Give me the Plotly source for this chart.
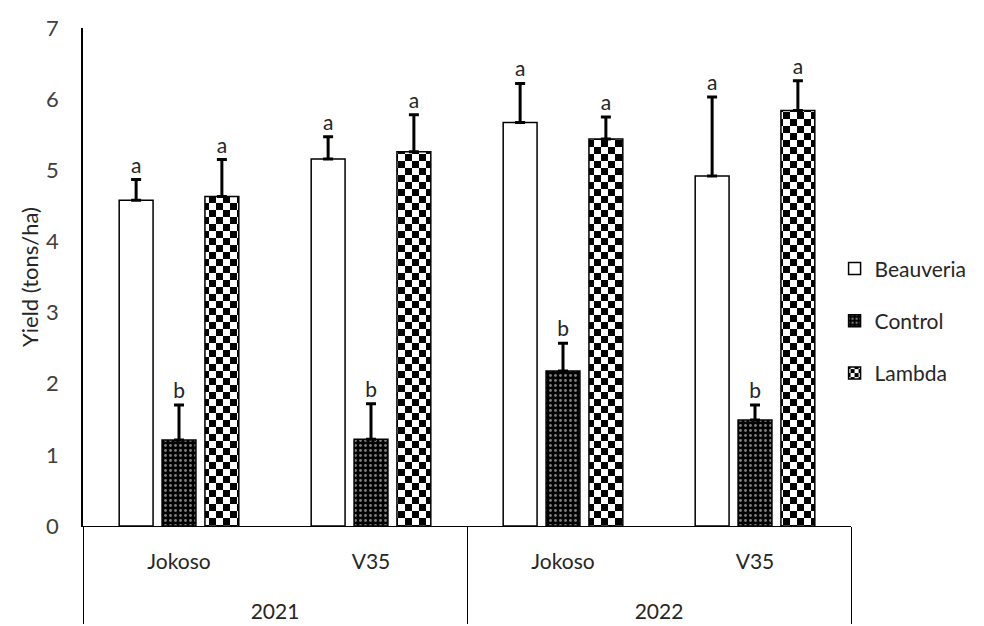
import plotly.graph_objects as go

years = ["2021", "2021", "2022", "2022"]
varieties = ["Jokoso", "V35", "Jokoso", "V35"]

beauveria = [4.58, 5.16, 5.67, 4.92]
beauveria_err = [0.29, 0.31, 0.55, 1.11]
beauveria_letters = ["a", "a", "a", "a"]

control = [1.21, 1.22, 2.18, 1.49]
control_err = [0.49, 0.50, 0.39, 0.21]
control_letters = ["b", "b", "b", "b"]

lambda_ = [4.63, 5.26, 5.44, 5.84]
lambda_err = [0.52, 0.52, 0.31, 0.42]
lambda_letters = ["a", "a", "a", "a"]

y_ticks = [0, 1, 2, 3, 4, 5, 6, 7]

FONT = "Lato, 'Open Sans', sans-serif"
TXT = "#262626"
LBL = "<span style='font-size:21px'>{}</span>"

series = [
    ("Beauveria", beauveria, beauveria_err, beauveria_letters,
     dict(color="white", line=dict(color="black", width=1.5))),
    ("Control", control, control_err, control_letters,
     dict(color="black", line=dict(color="black", width=1.5),
          pattern=dict(shape=".", fgcolor="white", bgcolor="black", size=5, solidity=0.25, fillmode="overlay"))),
    ("Lambda", lambda_, lambda_err, lambda_letters,
     dict(color="white", line=dict(color="black", width=1.5),
          pattern=dict(shape="+", fgcolor="black", bgcolor="white", size=14, solidity=0.5, fillmode="overlay"))),
]

fig = go.Figure()
x = [["<br>" + LBL.format(y) for y in years], [LBL.format(v) for v in varieties]]
for i, (name, vals, errs, letters, marker) in enumerate(series):
    fig.add_trace(go.Bar(
        name=name, x=x, y=vals, marker=marker, legendgroup=name,
        offsetgroup=str(i),
        error_y=dict(type="data", array=errs, arrayminus=[0] * len(errs), symmetric=False,
                     color="black", thickness=3, width=5),
    ))
for i, (name, vals, errs, letters, marker) in enumerate(series):
    fig.add_trace(go.Bar(
        x=x, y=[v + e for v, e in zip(vals, errs)], text=letters,
        textposition="outside", cliponaxis=False,
        textfont=dict(family=FONT, size=21, color=TXT),
        marker=dict(color="rgba(0,0,0,0)", line=dict(width=0)),
        offsetgroup=str(i), showlegend=False, hoverinfo="skip",
    ))

fig.update_layout(
    width=984, height=626,
    margin=dict(l=83, r=131, t=28, b=100),
    paper_bgcolor="white", plot_bgcolor="white",
    barmode="group", bargap=0.33, bargroupgap=0.21,
    font=dict(family=FONT, color=TXT, size=21),
    showlegend=True,
    legend=dict(x=1.157, xanchor="right", y=0.412, yanchor="middle",
                font=dict(size=21, family=FONT, color=TXT),
                tracegroupgap=22, itemwidth=30, bgcolor="rgba(0,0,0,0)"),
    yaxis=dict(range=[0, 7], tickvals=y_ticks, showgrid=False, zeroline=False,
               showline=True, linecolor="black", linewidth=1.5,
               ticks="", ticklabelstandoff=18,
               tickfont=dict(size=22, color="#404040"),
               title=dict(text="Yield (tons/ha)", font=dict(size=22, color=TXT), standoff=1)),
    xaxis=dict(type="multicategory", showline=True, linecolor="black", linewidth=1,
               showdividers=True, dividercolor="black", dividerwidth=1,
               ticks="", ticklabelstandoff=11, automargin=False,
               tickfont=dict(size=26, color=TXT), showgrid=False),
)

checker_js = """
(function(){
  document.body.style.margin = '0';
  var ns = 'http://www.w3.org/2000/svg';
  function fix(){
    document.querySelectorAll('pattern').forEach(function(p){
      if (p.getAttribute('data-cb')) return;
      if (!p.querySelector('path')) return;
      var w = parseFloat(p.getAttribute('width')), h = parseFloat(p.getAttribute('height'));
      while (p.firstChild) p.removeChild(p.firstChild);
      function r(x, y, ww, hh, c){
        var e = document.createElementNS(ns, 'rect');
        e.setAttribute('x', x); e.setAttribute('y', y);
        e.setAttribute('width', ww); e.setAttribute('height', hh);
        e.setAttribute('fill', c); p.appendChild(e);
      }
      r(0, 0, w, h, 'white');
      r(0, 0, w/2, h/2, 'black');
      r(w/2, h/2, w/2, h/2, 'black');
      p.setAttribute('data-cb', '1');
    });
  }
  fix();
  [0, 50, 200, 500, 1000, 2000].forEach(function(t){ setTimeout(fix, t); });
  var gd = document.getElementById('{plot_id}');
  if (gd && gd.on) gd.on('plotly_afterplot', fix);
})();
"""
fig.write_html("out.html", post_script=checker_js, config={"displayModeBar": False})
